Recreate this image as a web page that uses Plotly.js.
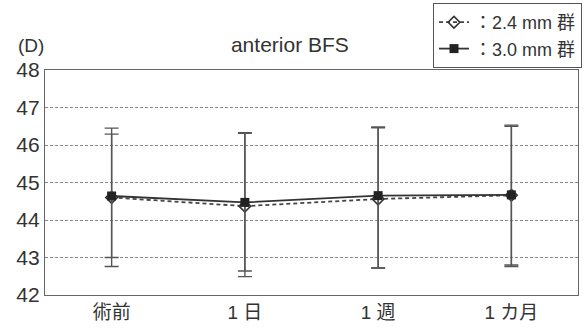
<!DOCTYPE html>
<html><head><meta charset="utf-8">
<script src="https://cdn.plot.ly/plotly-3.0.1.min.js"></script>
<style>html,body{margin:0;padding:0;background:#fff;}#c{width:588px;height:333px;}</style>
</head><body><div id="c"></div>
<script>
var categories = ["術前", "1 日", "1 週", "1 カ月"];
var names = ["：2.4 mm 群", "：3.0 mm 群"];
var mean24 = [44.6, 44.37, 44.56, 44.66];
var upper24 = [46.45, 46.33, 46.46, 46.5];
var lower24 = [42.76, 42.49, 42.72, 42.8];
var mean30 = [44.64, 44.47, 44.65, 44.67];
var upper30 = [46.29, 46.31, 46.48, 46.53];
var lower30 = [43.0, 42.64, 42.72, 42.76];
var yTicks = [42, 43, 44, 45, 46, 47, 48];

function errs(m, u, l) {
  return {up: m.map(function(v,i){return u[i]-v;}), dn: m.map(function(v,i){return v-l[i];})};
}
var e24 = errs(mean24, upper24, lower24);
var e30 = errs(mean30, upper30, lower30);
var font = "Liberation Sans, Noto Sans CJK JP, sans-serif";
var ink = "#333";

var traces = [
  {x: categories, y: mean24, name: names[0], type: "scatter", mode: "lines+markers",
   line: {color: "#444", width: 1.8, dash: "4px,3px"},
   marker: {symbol: "diamond-open", size: 9, color: "#333", line: {width: 1.6, color: "#333"}},
   error_y: {type: "data", symmetric: false, array: e24.up, arrayminus: e24.dn, color: "#555", thickness: 1.4, width: 7}},
  {x: categories, y: mean30, name: names[1], type: "scatter", mode: "lines+markers",
   line: {color: "#333", width: 1.8},
   marker: {symbol: "square", size: 9, color: "#222"},
   error_y: {type: "data", symmetric: false, array: e30.up, arrayminus: e30.dn, color: "#555", thickness: 1.4, width: 7}}
];

var layout = {
  width: 588, height: 333,
  margin: {l: 45, r: 10, t: 70, b: 38, autoexpand: false},
  paper_bgcolor: "#fff", plot_bgcolor: "#fff",
  font: {family: font, color: ink, size: 19},
  title: {text: "anterior BFS", x: 0.493, xref: "container", y: 0.865, yref: "container", yanchor: "middle", xanchor: "center",
          font: {family: font, size: 21, color: ink}},
  xaxis: {type: "category", range: [-0.5, 3.5], showgrid: false, zeroline: false, automargin: false,
          showline: true, linecolor: "#666", linewidth: 1.2, mirror: true, ticks: "",
          tickfont: {family: font, size: 19, color: ink}},
  yaxis: {range: [42, 48], tickvals: yTicks, ticktext: yTicks.map(String), showgrid: true, automargin: false,
          gridcolor: "#888", griddash: "3px,2px", gridwidth: 1, zeroline: false,
          showline: true, linecolor: "#666", linewidth: 1.2, mirror: true, ticks: "",
          tickfont: {family: font, size: 21, color: ink}},
  showlegend: true,
  legend: {xref: "container", yref: "container", x: 582/588, xanchor: "right", y: 1 - 3/333, yanchor: "top",
           bordercolor: "#555", borderwidth: 1,
           bgcolor: "#fff", font: {family: font, size: 18, color: ink}, tracegroupgap: 0},
  annotations: [{text: "(D)", xref: "paper", yref: "paper", x: -0.026, y: 1.111, xanchor: "center", yanchor: "middle",
                 showarrow: false, font: {family: font, size: 19, color: ink}}]
};
Plotly.newPlot("c", traces, layout, {displayModeBar: false, staticPlot: true});
</script></body></html>
